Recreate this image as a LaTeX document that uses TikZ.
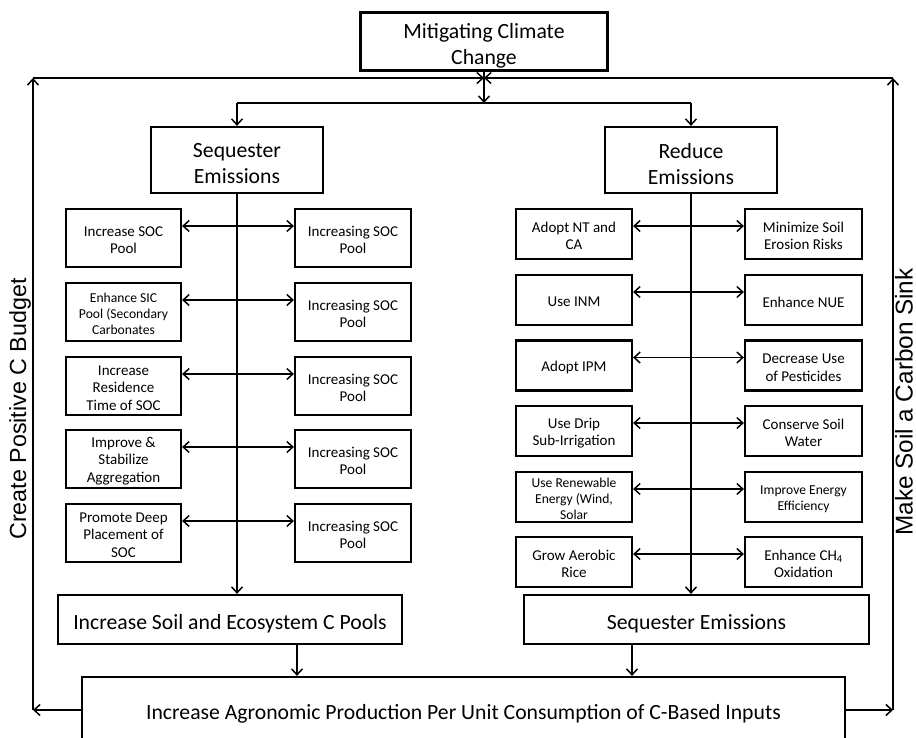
\documentclass[tikz,border=0pt]{standalone}
\usepackage{fontspec}
\setmainfont{Carlito}
\newfontfamily\arialfont{Liberation Sans}
\usetikzlibrary{arrows.meta}

\begin{document}
\begin{tikzpicture}[x=1pt, y=-1pt,
bigbox/.style={rectangle, draw=black, line width=2.2pt, inner sep=0pt},
bigtext/.style={align=center, inner sep=0pt, yshift=-4, font=\fontsize{21.7}{26}\selectfont},
smalltext/.style={align=center, inner sep=0pt, yshift=-2, font=\fontsize{15}{17.5}\selectfont},
tighttext/.style={align=center, inner sep=0pt, yshift=-2, font=\fontsize{13.6}{16.3}\selectfont},
soccell/.style={bigbox, minimum width=116, minimum height=58},
redcell/.style={bigbox, minimum width=116, minimum height=50},
sidelabel/.style={rotate=90, inner sep=0pt, font=\arialfont\fontsize{23.3}{28}\selectfont},
link/.style={black, line width=1.5pt, >={Straight Barb[length=6pt,width=11pt]}},]

	\useasboundingbox (0, 0) rectangle (916, 738);
	\clip (0, 0) rectangle (916, 738);

	\node (climate) [bigbox, minimum width=247, minimum height=58, label={[bigtext]center:{Mitigating Climate\\Change}}] at (484, 41.5) {};
	\node (seq) [bigbox, minimum width=172, minimum height=66, label={[bigtext]center:{Sequester\\Emissions}}] at (237, 160) {};
	\node (red) [bigbox, minimum width=172, minimum height=66, label={[bigtext]center:{Reduce\\Emissions}}] at (691, 160) {};

	\node (soilpools) [bigbox, minimum width=344, minimum height=49, label={[bigtext]center:{Increase Soil and Ecosystem C Pools}}] at (230, 619.5) {};
	\node (seqlow) [bigbox, minimum width=345, minimum height=49, label={[bigtext]center:{Sequester Emissions}}] at (696.5, 619.5) {};
	\node (agro) [bigbox, minimum width=763, minimum height=66, label={[bigtext]center:{Increase Agronomic Production Per Unit Consumption of C-Based Inputs}}] at (463.5, 710) {};

	\node (budget) [sidelabel] at (20, 409) {Create Positive C Budget};
	\node (sink) [sidelabel, font=\arialfont\fontsize{24.3}{29}\selectfont] at (904, 402) {Make Soil a Carbon Sink};

	\coordinate (hub) at (484, 78);
	\coordinate (split) at (484, 103);
	\coordinate (cornerL) at (33, 78);
	\coordinate (cornerR) at (893, 78);

	\node (incsoc) [soccell, minimum width=115, label={[smalltext]center:{Increase SOC\\Pool}}] at (123.5, 238) {};
	\node (enhsic) [soccell, minimum width=115, label={[tighttext]center:{Enhance SIC\\Pool (Secondary\\Carbonates}}] at (123.5, 312) {};
	\node (restime) [soccell, minimum width=115, label={[smalltext]center:{Increase\\Residence\\Time of SOC}}] at (123.5, 386) {};
	\node (aggreg) [soccell, minimum width=115, label={[smalltext]center:{Improve \&\\Stabilize\\Aggregation}}] at (123.5, 459) {};
	\node (deepsoc) [soccell, minimum width=115, label={[smalltext]center:{Promote Deep\\Placement of\\SOC}}] at (123.5, 533) {};

	\node (pool1) [soccell, label={[smalltext]center:{Increasing SOC\\Pool}}] at (353, 238) {};
	\node (pool2) [soccell, label={[smalltext]center:{Increasing SOC\\Pool}}] at (353, 312) {};
	\node (pool3) [soccell, label={[smalltext]center:{Increasing SOC\\Pool}}] at (353, 386) {};
	\node (pool4) [soccell, label={[smalltext]center:{Increasing SOC\\Pool}}] at (353, 459) {};
	\node (pool5) [soccell, label={[smalltext]center:{Increasing SOC\\Pool}}] at (353, 533) {};

	\node (ntca) [redcell, label={[smalltext]center:{Adopt NT and\\CA}}] at (574, 234) {};
	\node (inm) [redcell, label={[smalltext]center:{Use INM}}] at (574, 300) {};
	\node (ipm) [redcell, label={[smalltext]center:{Adopt IPM}}] at (574, 365.5) {};
	\node (drip) [redcell, label={[smalltext]center:{Use Drip\\Sub-Irrigation}}] at (574, 431) {};
	\node (renew) [redcell, label={[tighttext]center:{Use Renewable\\Energy (Wind,\\Solar}}] at (574, 497) {};
	\node (rice) [redcell, label={[smalltext]center:{Grow Aerobic\\Rice}}] at (574, 562) {};

	\node (erosion) [redcell, minimum width=117, label={[smalltext]center:{Minimize Soil\\Erosion Risks}}] at (803.5, 234) {};
	\node (nue) [redcell, minimum width=117, label={[smalltext]center:{Enhance NUE}}] at (803.5, 300) {};
	\node (pest) [redcell, minimum width=117, label={[smalltext]center:{Decrease Use\\of Pesticides}}] at (803.5, 365.5) {};
	\node (water) [redcell, minimum width=117, label={[smalltext]center:{Conserve Soil\\Water}}] at (803.5, 431) {};
	\node (energy) [redcell, minimum width=117, label={[tighttext]center:{Improve Energy\\Efficiency}}] at (803.5, 497) {};
	\node (methane) [redcell, minimum width=117, label={[smalltext]center:{Enhance CH\textsubscript{4}\\Oxidation}}] at (803.5, 562) {};

	\draw[link, ->] (climate.south) -- (split);
	\draw[link, -] (seq.north |- split) -- (red.north |- split);
	\draw[link, ->] (seq.north |- split) -- (seq.north);
	\draw[link, ->] (red.north |- split) -- (red.north);
	\draw[link, ->] (cornerL) -- (hub);
	\draw[link, ->] (cornerR) -- (hub);

	\draw[link, ->] (agro.west) -- (agro.west -| cornerL);
	\draw[link, ->] (agro.west -| cornerL) -- (cornerL);
	\draw[link, ->] (agro.east) -- (agro.east -| cornerR);
	\draw[link, ->] (agro.east -| cornerR) -- (cornerR);

	\draw[link, ->] (seq.south) -- (seq.south |- soilpools.north);
	\draw[link, ->] (red.south) -- (red.south |- seqlow.north);
	\draw[link, ->] ([xshift=67]soilpools.south) -- ([xshift=67]soilpools.south |- agro.north);
	\draw[link, ->] ([xshift=-64.5]seqlow.south) -- ([xshift=-64.5]seqlow.south |- agro.north);

	\draw[link, <->] ([yshift=12]incsoc.east) -- ([yshift=12]pool1.west);
	\draw[link, <->] ([yshift=12]enhsic.east) -- ([yshift=12]pool2.west);
	\draw[link, <->] ([yshift=12]restime.east) -- ([yshift=12]pool3.west);
	\draw[link, <->] ([yshift=12]aggreg.east) -- ([yshift=12]pool4.west);
	\draw[link, <->] ([yshift=12]deepsoc.east) -- ([yshift=12]pool5.west);

	\draw[link, <->] ([yshift=8]ntca.east) -- ([yshift=8]erosion.west);
	\draw[link, <->] ([yshift=8]inm.east) -- ([yshift=8]nue.west);
	\draw[link, <->] ([yshift=8]ipm.east) -- ([yshift=8]pest.west);
	\draw[link, <->] ([yshift=8]drip.east) -- ([yshift=8]water.west);
	\draw[link, <->] ([yshift=8]renew.east) -- ([yshift=8]energy.west);
	\draw[link, <->] ([yshift=8]rice.east) -- ([yshift=8]methane.west);

\end{tikzpicture}
\end{document}
